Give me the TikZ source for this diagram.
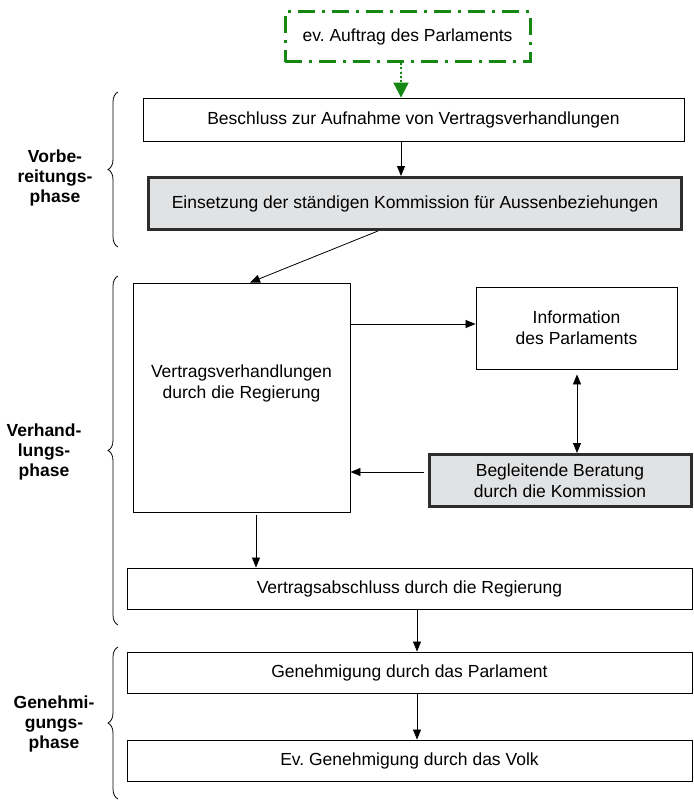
\documentclass[tikz,border=0pt]{standalone}
\usepackage{fontspec}
\setmainfont{Liberation Sans}
\usetikzlibrary{arrows.meta,decorations.pathreplacing,calc}
\definecolor{grn}{RGB}{20,135,20}
\definecolor{boxgray}{RGB}{225,226,228}
\definecolor{edgegray}{RGB}{45,45,45}
\frenchspacing
\begin{document}
\begin{tikzpicture}[x=1pt,y=-1pt,
  font=\fontsize{17.5}{21}\selectfont,
  plainbox/.style={draw=black, line width=0.9pt, fill=white, inner sep=0pt, align=center},
  graybox/.style={draw=edgegray, line width=3pt, fill=boxgray, inner sep=0pt, align=center},
  greenbox/.style={draw=grn, line width=3pt, dash pattern=on 17pt off 7pt on 3pt off 7pt, inner sep=0pt, align=center},
  arr/.style={-{Triangle[length=10pt,width=8pt]}, line width=0.8pt},
  grnarr/.style={-{Triangle[length=15pt,width=15pt]}, draw=grn, fill=grn, line width=2pt, dash pattern=on 2pt off 2pt},
  phasebrace/.style={decorate, decoration={brace, amplitude=10pt}, line width=0.8pt},
  phaselabel/.style={font=\fontsize{17.5}{20}\selectfont\bfseries, align=center, inner sep=0pt}
]
\useasboundingbox (0,0) rectangle (693,800);

% boxes
\node[greenbox, minimum width=245pt, minimum height=50pt] (auftrag) at (407.5,37) {ev.\ Auftrag des Parlaments};
\node[plainbox, minimum width=541pt, minimum height=43pt] (beschluss) at (413.5,119.5) {Beschluss zur Aufnahme von Vertragsverhandlungen};
\node[graybox, minimum width=533pt, minimum height=52pt] (einsetzung) at (415,203.5) {Einsetzung der ständigen Kommission für Aussenbeziehungen};
\node[plainbox, minimum width=217pt, minimum height=229pt] (vertrag) at (241.5,397.5) {};
\node[inner sep=0pt, align=center] (vtext) at (241.5,383) {Vertragsverhandlungen\\durch die Regierung};
\node[plainbox, minimum width=201pt, minimum height=82pt] (info) at (576.5,328) {Information\\des Parlaments};
\node[graybox, minimum width=262pt, minimum height=52pt] (beglei) at (560,480.5) {Begleitende Beratung\\durch die Kommission};
\node[plainbox, minimum width=565pt, minimum height=41pt] (abschluss) at (409.5,588.5) {Vertragsabschluss durch die Regierung};
\node[plainbox, minimum width=565pt, minimum height=41pt] (genehm) at (409.5,672.5) {Genehmigung durch das Parlament};
\node[plainbox, minimum width=565pt, minimum height=41pt] (volk) at (409.5,760.5) {Ev.\ Genehmigung durch das Volk};

% connectors
\coordinate (gx) at (401,0);
\draw[grnarr] (gx |- auftrag.south) -- (gx |- beschluss.north);
\draw[arr] (gx |- beschluss.south) -- (gx |- einsetzung.north);
\coordinate (ex) at (378,0);
\coordinate (vx) at (250,0);
\draw[arr] (ex |- einsetzung.south) -- (vx |- vertrag.north);
\coordinate (iy) at (0,324);
\draw[arr] (vertrag.east |- iy) -- (info.west |- iy);
\coordinate (ix) at (577,0);
\draw[{Triangle[length=10pt,width=8pt]}-{Triangle[length=10pt,width=8pt]}, line width=0.8pt, shorten <=5pt] (ix |- info.south) -- (ix |- beglei.north);
\coordinate (by) at (0,472);
\draw[arr, shorten <=4pt] (beglei.west |- by) -- (vertrag.east |- by);
\coordinate (dx) at (256,0);
\draw[arr, shorten <=3pt] (dx |- vertrag.south) -- (dx |- abschluss.north);
\coordinate (ax) at (417,0);
\draw[arr] (ax |- abschluss.south) -- (ax |- genehm.north);
\draw[arr] (ax |- genehm.south) -- (ax |- volk.north);

% braces and phase labels
\coordinate (b1a) at (118,247);
\coordinate (b1b) at (118,92);
\coordinate (b2a) at (118,625);
\coordinate (b2b) at (118,276);
\coordinate (b3a) at (118,799);
\coordinate (b3b) at (118,647);
\draw[phasebrace] (b1a) -- (b1b);
\draw[phasebrace] (b2a) -- (b2b);
\draw[phasebrace] (b3a) -- (b3b);
\node[phaselabel] (p1) at (55,178) {Vorbe-\\reitungs-\\phase};
\node[phaselabel] (p2) at (44,452) {Verhand-\\lungs-\\phase};
\node[phaselabel] (p3) at (54,724) {Genehmi-\\gungs-\\phase};
\end{tikzpicture}
\end{document}
